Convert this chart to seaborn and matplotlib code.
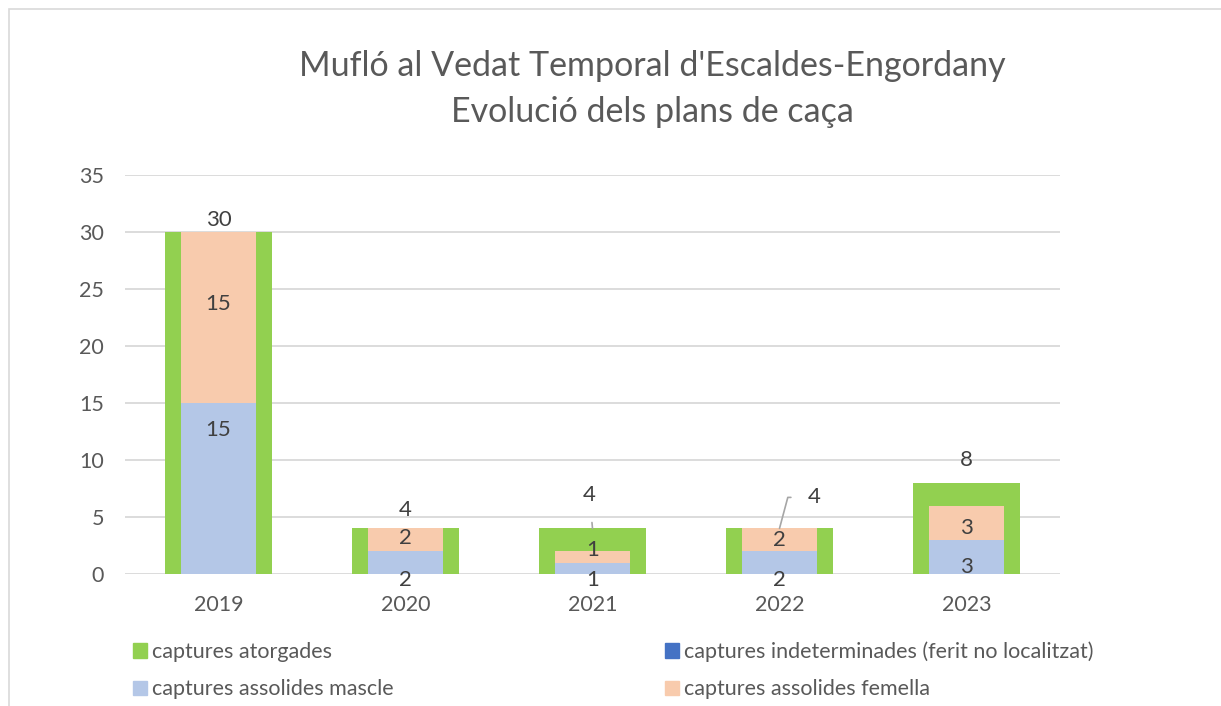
import matplotlib
matplotlib.use("Agg")
import matplotlib.pyplot as plt
import matplotlib.patches as mpatches
import pandas as pd
import seaborn as sns

# Dades del pla de caça (mufló, Escaldes-Engordany)
anys = ["2019", "2020", "2021", "2022", "2023"]
atorgades = [30, 4, 4, 4, 8]
indeterminades = [0, 0, 0, 0, 0]
mascle = [15, 2, 1, 2, 3]
femella = [15, 2, 1, 2, 3]

noms = ["captures atorgades", "captures indeterminades (ferit no localitzat)",
        "captures assolides mascle", "captures assolides femella"]

VERD = "#92D050"
BLAU = "#4472C4"
BLAU_CLAR = "#B4C7E7"
SALMO = "#F8CBAD"
GRIS_TEXT = "#595959"
GRIS_ETIQ = "#404040"
GRIS_LINIA = "#D9D9D9"

df = pd.DataFrame({"any": anys, "atorgades": atorgades, "indeterminades": indeterminades,
                   "mascle": mascle, "femella": femella})
df["assolides"] = df["mascle"] + df["femella"]

sns.set_theme(style="white")
plt.rcParams["font.family"] = ["Lato", "DejaVu Sans"]

fig = plt.figure(figsize=(12.21, 7.06), dpi=100)
ax = fig.add_axes([125 / 1221, 1 - 574 / 706, 935 / 1221, 399 / 706])

# marc del gràfic
fig.patches.append(mpatches.Rectangle((9 / 1221, -0.02), 1.0, 1.02 - 9 / 706,
                                      transform=fig.transFigure, fill=False,
                                      edgecolor=GRIS_LINIA, lw=1.2))

sns.barplot(data=df, x="any", y="atorgades", color=VERD, width=0.57, saturation=1,
            errorbar=None, ax=ax, zorder=2, linewidth=0)
sns.barplot(data=df, x="any", y="assolides", color=SALMO, width=0.40, saturation=1,
            errorbar=None, ax=ax, zorder=3, linewidth=0)
sns.barplot(data=df, x="any", y="mascle", color=BLAU_CLAR, width=0.40, saturation=1,
            errorbar=None, ax=ax, zorder=4, linewidth=0)

ax.set_ylim(0, 35)
ax.set_xlim(-0.5, 4.5)
ax.set_yticks(range(0, 36, 5))
ax.yaxis.grid(True, color=GRIS_LINIA, lw=1.3)
ax.set_axisbelow(True)
for s in ax.spines.values():
    s.set_visible(False)
ax.set_xlabel("")
ax.set_ylabel("")
ax.tick_params(axis="both", length=0, labelsize=15.5, colors=GRIS_TEXT)
ax.tick_params(axis="x", pad=15)
ax.tick_params(axis="y", pad=15)

# etiquetes de dades
lab = dict(ha="center", va="center", fontsize=16, color=GRIS_ETIQ,
           textcoords="offset pixels", zorder=6)
off_total = [12, 18, 33, 31, 23]
for i, v in enumerate(atorgades):
    if i == 2:
        ax.annotate(str(v), xy=(i, v), xytext=(-3, off_total[i]),
                    arrowprops=dict(arrowstyle="-", color="#A6A6A6", lw=1.2,
                                    shrinkA=10, shrinkB=0), **lab)
    elif i == 3:
        ax.annotate(str(v), xy=(i, v), xytext=(35, off_total[i]),
                    arrowprops=dict(arrowstyle="-", color="#A6A6A6", lw=1.2,
                                    shrinkA=10, shrinkB=0,
                                    connectionstyle="angle,angleA=0,angleB=75,rad=0"),
                    **lab)
    else:
        ax.annotate(str(v), xy=(i, v), xytext=(0, off_total[i]), **lab)

off_fem = [14, 2, 7, 0, -5]
for i, (m, f) in enumerate(zip(mascle, femella)):
    ax.annotate(str(f), xy=(i, m + f / 2), xytext=(0, off_fem[i]), **lab)

for i, m in enumerate(mascle):
    if m >= 10:
        ax.annotate(str(m), xy=(i, m), xytext=(0, -27), **lab)
    elif m >= 3:
        ax.annotate(str(m), xy=(i, 0), xytext=(0, 7), **lab)
    else:
        ax.annotate(str(m), xy=(i, 0), xytext=(0, -6), **lab)

fig.text(652 / 1221, 1 - 89 / 706,
         "Mufló al Vedat Temporal d'Escaldes-Engordany\nEvolució dels plans de caça",
         ha="center", va="center", fontsize=24.5, color=GRIS_TEXT, linespacing=1.5)

colors = [VERD, BLAU, BLAU_CLAR, SALMO]
handles = [mpatches.Patch(color=c, label=n) for c, n in zip(colors, noms)]
ordre = [0, 2, 1, 3]
fig.legend([handles[k] for k in ordre], [noms[k] for k in ordre], ncol=2,
           loc="upper left", bbox_to_anchor=(124 / 1221, 1 - 633 / 706),
           frameon=False, fontsize=15.5, labelcolor=GRIS_TEXT,
           handlelength=0.65, handleheight=0.65, handletextpad=0.25,
           columnspacing=12.6, labelspacing=0.8, borderaxespad=0)

fig.savefig("out.png", dpi=100)
